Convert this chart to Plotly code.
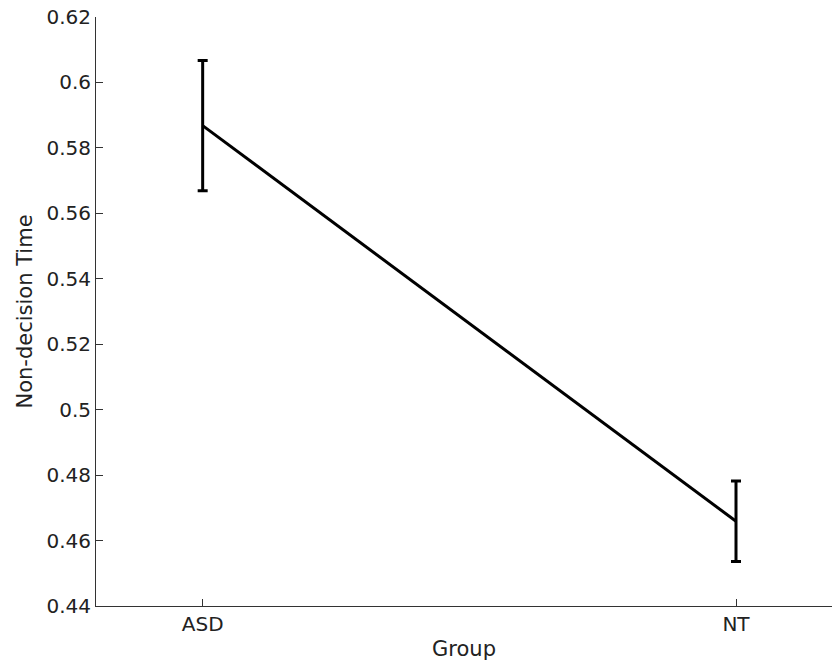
import plotly.graph_objects as go

groups = ["ASD", "NT"]
group_pos = [1, 2]
means = [0.5868, 0.4659]
errors = [0.0199, 0.0123]
y_ticks = [0.44, 0.46, 0.48, 0.5, 0.52, 0.54, 0.56, 0.58, 0.6, 0.62]
y_tick_text = ["0.44", "0.46", "0.48", "0.5", "0.52", "0.54", "0.56", "0.58", "0.6", "0.62"]

tick_font = dict(family="DejaVu Sans, sans-serif", size=20, color="#222222")
title_font = dict(family="DejaVu Sans, sans-serif", size=21, color="#222222")

fig = go.Figure()
fig.add_trace(go.Scatter(
    x=group_pos, y=means, mode="lines",
    line=dict(color="black", width=3),
    error_y=dict(type="data", array=errors, visible=True, color="black", thickness=3, width=5),
    showlegend=False,
))

fig.update_layout(
    width=832, height=669,
    margin=dict(l=96, r=0, t=17, b=63),
    paper_bgcolor="white", plot_bgcolor="white",
    font=tick_font,
    xaxis=dict(
        range=[0.8, 2.18], tickvals=group_pos, ticktext=groups,
        ticks="inside", ticklen=7, tickcolor="#333333", tickwidth=1,
        showline=True, linecolor="#333333", linewidth=1,
        showgrid=False, zeroline=False, automargin=False,
        tickfont=tick_font,
        title=dict(text="Group", standoff=6, font=title_font),
    ),
    yaxis=dict(
        range=[0.44, 0.62], tickvals=y_ticks, ticktext=y_tick_text,
        ticks="inside", ticklen=7, tickcolor="#333333", tickwidth=1,
        showline=True, linecolor="#333333", linewidth=1,
        showgrid=False, zeroline=False, automargin=False,
        tickfont=tick_font,
        title=dict(text="Non-decision Time", standoff=8, font=title_font),
    ),
)

fig.write_html("out.html")
